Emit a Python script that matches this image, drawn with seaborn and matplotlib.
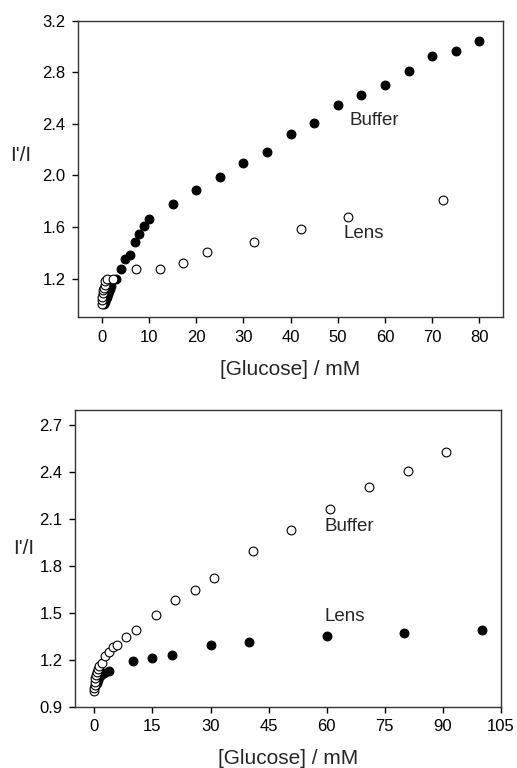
import matplotlib
matplotlib.use("Agg")
import matplotlib.pyplot as plt
import seaborn as sns
import numpy as np
import pandas as pd

# ---- Top panel data ----
top_buffer_x = [0.5, 0.8, 1.0, 1.2, 1.4, 1.6, 1.8, 2.0, 3, 4, 5, 6, 7, 8, 9, 10, 15, 20, 25, 30, 35, 40, 45, 50, 55, 60, 65, 70, 75, 80]
top_buffer_y = [1.00, 1.02, 1.04, 1.06, 1.08, 1.10, 1.12, 1.14, 1.20, 1.275, 1.35, 1.383, 1.484, 1.546, 1.61, 1.66, 1.78, 1.887, 1.985, 2.094, 2.18, 2.32, 2.41, 2.546, 2.62, 2.70, 2.81, 2.93, 2.965, 3.045]
top_lens_x = [0.0, 0.05, 0.1, 0.2, 0.3, 0.4, 0.6, 0.8, 1.1, 2.3, 7.3, 12.3, 17.2, 22.2, 32.2, 42.2, 52.2, 72.2]
top_lens_y = [1.00, 1.03, 1.06, 1.09, 1.11, 1.13, 1.15, 1.18, 1.20, 1.20, 1.27, 1.27, 1.321, 1.409, 1.484, 1.582, 1.678, 1.812]

# ---- Bottom panel data ----
bot_buffer_x = [0.0, 0.0, 0.1, 0.2, 0.3, 0.4, 0.6, 0.9, 1.3, 1.9, 2.7, 3.9, 4.7, 5.9, 8.3, 10.8, 15.8, 20.9, 25.9, 30.9, 40.9, 50.9, 60.9, 70.9, 80.9, 90.9]
bot_buffer_y = [1.00, 1.02, 1.04, 1.06, 1.08, 1.10, 1.12, 1.14, 1.16, 1.178, 1.222, 1.25, 1.28, 1.293, 1.344, 1.391, 1.487, 1.583, 1.645, 1.72, 1.893, 2.032, 2.164, 2.303, 2.408, 2.527]
bot_lens_x = [0.3, 0.6, 0.9, 1.3, 1.8, 2.4, 3.9, 10, 15, 20, 30, 40, 60, 80, 100]
bot_lens_y = [1.03, 1.05, 1.07, 1.09, 1.105, 1.115, 1.128, 1.193, 1.21, 1.227, 1.295, 1.316, 1.35, 1.374, 1.387]

top_xticks = [0, 10, 20, 30, 40, 50, 60, 70, 80]
top_yticks = [1.2, 1.6, 2.0, 2.4, 2.8, 3.2]
bot_xticks = [0, 15, 30, 45, 60, 75, 90, 105]
bot_yticks = [0.9, 1.2, 1.5, 1.8, 2.1, 2.4, 2.7]

sns.set_style("ticks")
plt.rcParams['font.family'] = ['Liberation Sans', 'DejaVu Sans']

fig = plt.figure(figsize=(5.17, 7.68), dpi=100)
ax1 = fig.add_axes([0.151, 0.587, 0.822, 0.386])
ax2 = fig.add_axes([0.145, 0.080, 0.824, 0.3865])

ms = 40

def panel(ax, fx, fy, ox, oy):
    sns.scatterplot(x=fx, y=fy, ax=ax, s=ms, color="black", edgecolor="black", linewidth=0.8, zorder=3)
    sns.scatterplot(x=ox, y=oy, ax=ax, s=ms, color="white", edgecolor="black", linewidth=0.8, zorder=3)

panel(ax1, top_buffer_x, top_buffer_y, top_lens_x, top_lens_y)
ax1.set_xlim(-5, 85)
ax1.set_ylim(0.9, 3.2)
ax1.set_xticks(top_xticks)
ax1.set_yticks(top_yticks)
ax1.set_yticklabels([f"{v:.1f}" for v in top_yticks])
ax1.text(52.5, 2.425, "Buffer", fontsize=13.5, va="center", ha="left")
ax1.text(51.3, 1.55, "Lens", fontsize=13.5, va="center", ha="left")

panel(ax2, bot_lens_x, bot_lens_y, bot_buffer_x, bot_buffer_y)
ax2.set_xlim(-5, 105)
ax2.set_ylim(0.9, 2.8)
ax2.set_xticks(bot_xticks)
ax2.set_yticks(bot_yticks)
ax2.set_yticklabels([f"{v:.1f}" for v in bot_yticks])
ax2.text(59.5, 2.053, "Buffer", fontsize=13.5, va="center", ha="left")
ax2.text(59.5, 1.477, "Lens", fontsize=13.5, va="center", ha="left")

for ax in (ax1, ax2):
    for sp in ax.spines.values():
        sp.set_visible(True)
        sp.set_color("#333333")
        sp.set_linewidth(1.0)
    ax.tick_params(axis="both", direction="out", length=4, width=1, labelsize=12, colors="black", pad=5)
    ax.set_xlabel("[Glucose] / mM", fontsize=15, labelpad=11)
    ax.set_ylabel("I'/I", fontsize=15, rotation=0, va="center", ha="center")

ax1.yaxis.set_label_coords(-0.134, 0.544)
ax2.yaxis.set_label_coords(-0.12, 0.534)

fig.savefig("out.png", dpi=100)
